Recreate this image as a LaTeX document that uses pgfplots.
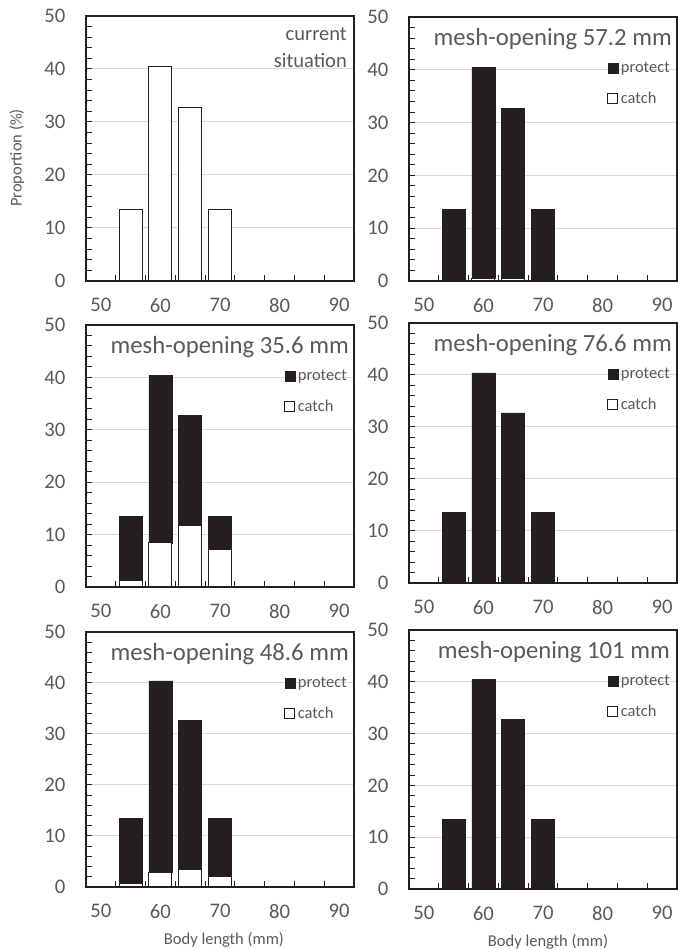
\documentclass[border=0pt]{standalone}
\usepackage{pgfplots}
\pgfplotsset{compat=1.18}
\usepackage{fontspec}
\setmainfont{Carlito}
\definecolor{textgray}{HTML}{595959}
\definecolor{axisblack}{HTML}{231F20}
\definecolor{barblack}{HTML}{231F20}
\definecolor{gridgray}{HTML}{D9D9D9}
\newcommand\tickfont{\fontsize{20.7}{24}\selectfont}
\newcommand\titlefont{\fontsize{24.7}{28}\selectfont}
\newcommand\curfont{\fontsize{20.5}{24}\selectfont}
\newcommand\legfont{\fontsize{16.5}{19}\selectfont}
\newcommand\labfont{\fontsize{16.5}{19}\selectfont}
\tikzset{titlenode/.style={anchor=base east, inner sep=0pt, font=\titlefont, text=textgray, xshift=-5pt, yshift=-29pt}}
\pgfplotsset{
  sqlegend/.style={legend image code/.code={\draw[##1] (0pt,-5pt) rectangle (10pt,5pt);}},
  catchbar/.style={fill=white, draw=axisblack, line width=1pt, sqlegend},
  protectbar/.style={fill=barblack, draw=barblack, line width=0.6pt, sqlegend},
  panel/.style={
    scale only axis, width=268pt, anchor=south west,
    xmin=47.5, xmax=92.5, ymin=0, ymax=50,
    xtick={50,60,70,80,90}, minor xtick={52.5,57.5,...,87.5},
    ytick={0,10,...,50}, minor ytick={2,4,...,48},
    tick align=inside, xtick pos=left, ytick pos=left,
    major x tick style={draw=none},
    tick style={color=axisblack, line width=1pt},
    major tick length=6pt, minor tick length=6pt,
    ymajorgrids, grid style={color=gridgray, line width=1pt},
    axis line style={color=axisblack, line width=1.4pt},
    /pgf/number format/assume math mode=true,
    tick label style={font=\tickfont, text=textgray},
    xticklabel style={yshift=-14pt},
    yticklabel style={xshift=-17pt},
    ybar stacked, bar width=3.87,
    legend style={at={(rel axis cs:1,1)}, anchor=north east, xshift=-6pt, yshift=-44pt,
      draw=none, fill=none, font=\legfont, text=textgray, inner sep=0pt,
      row sep=16pt, column sep=1.5pt, nodes={inner sep=1pt}},
    legend cell align=left,
    reverse legend,
  },
}
\begin{document}
\begin{tikzpicture}
\path[use as bounding box] (0pt,0pt) rectangle (677pt,949pt);
% Panel 1: current situation
\begin{axis}[panel, at={(86pt,668pt)}, height=265pt]
\addplot[catchbar] coordinates {(55,13.5) (60,40.4) (65,32.7) (70,13.5)};
\node[anchor=base east, inner sep=0pt, font=\curfont, text=textgray, xshift=-7pt, yshift=-25pt] at (rel axis cs:1,1) {current};
\node[anchor=base east, inner sep=0pt, font=\curfont, text=textgray, xshift=-7pt, yshift=-52pt] at (rel axis cs:1,1) {situation};
\end{axis}
% Panel 2: 57.2 mm
\begin{axis}[panel, at={(409pt,668pt)}, height=264pt]
\addplot[catchbar] coordinates {(55,0) (60,0.5) (65,0.5) (70,0.3)};
\addlegendentry{catch}
\addplot[protectbar] coordinates {(55,13.5) (60,39.9) (65,32.2) (70,13.2)};
\addlegendentry{protect}
\node[titlenode] at (rel axis cs:1,1) {mesh-opening 57.2 mm};
\end{axis}
% Panel 3: 35.6 mm
\begin{axis}[panel, at={(86pt,362pt)}, height=262pt]
\addplot[catchbar] coordinates {(55,1.3) (60,8.4) (65,11.7) (70,7.1)};
\addlegendentry{catch}
\addplot[protectbar] coordinates {(55,12.2) (60,32.0) (65,21.0) (70,6.4)};
\addlegendentry{protect}
\node[titlenode] at (rel axis cs:1,1) {mesh-opening 35.6 mm};
\end{axis}
% Panel 4: 76.6 mm
\begin{axis}[panel, at={(409pt,366pt)}, height=260pt]
\addplot[catchbar] coordinates {(55,0) (60,0) (65,0) (70,0)};
\addlegendentry{catch}
\addplot[protectbar] coordinates {(55,13.5) (60,40.4) (65,32.7) (70,13.5)};
\addlegendentry{protect}
\node[titlenode] at (rel axis cs:1,1) {mesh-opening 76.6 mm};
\end{axis}
% Panel 5: 48.6 mm
\begin{axis}[panel, at={(86pt,62pt)}, height=255pt]
\addplot[catchbar] coordinates {(55,0.6) (60,2.9) (65,3.5) (70,2.0)};
\addlegendentry{catch}
\addplot[protectbar] coordinates {(55,12.9) (60,37.5) (65,29.2) (70,11.5)};
\addlegendentry{protect}
\node[titlenode] at (rel axis cs:1,1) {mesh-opening 48.6 mm};
\end{axis}
% Panel 6: 101 mm
\begin{axis}[panel, at={(409pt,60pt)}, height=259pt]
\addplot[catchbar] coordinates {(55,0) (60,0) (65,0) (70,0)};
\addlegendentry{catch}
\addplot[protectbar] coordinates {(55,13.5) (60,40.4) (65,32.7) (70,13.5)};
\addlegendentry{protect}
\node[titlenode, xshift=-2pt] at (rel axis cs:1,1) {mesh-opening 101 mm};
\end{axis}
% axis labels
\node[rotate=90, font=\labfont, text=textgray] at (17pt,791pt) {Proportion (\%)};
\node[font=\labfont, text=textgray] at (224pt,9pt) {Body length (mm)};
\node[font=\labfont, text=textgray] at (548pt,7pt) {Body length (mm)};
\end{tikzpicture}
\end{document}
